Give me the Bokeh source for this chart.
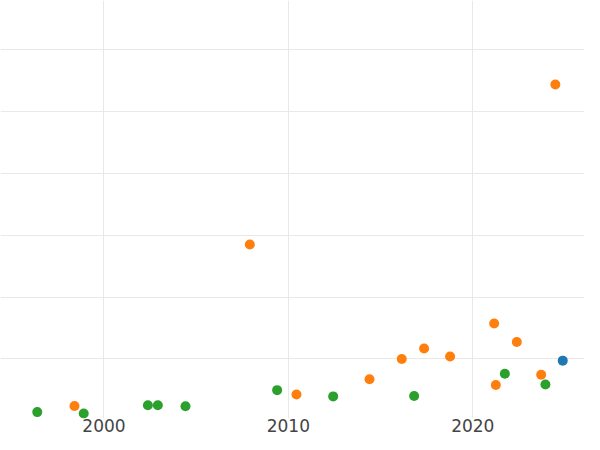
from bokeh.plotting import figure
from bokeh.models import Range1d, FixedTicker
from bokeh.embed import file_html
from bokeh.resources import INLINE

# Data (y in grid units)
blue_x = [2024.88]
blue_y = [0.973]

orange_x = [1998.40, 2007.91, 2010.44, 2014.40, 2016.15, 2017.36, 2018.77,
            2021.16, 2021.25, 2022.39, 2023.71, 2024.48]
orange_y = [0.241, 2.850, 0.427, 0.671, 1.000, 1.169, 1.041,
            1.573, 0.580, 1.275, 0.745, 5.438]

green_x = [1996.38, 1998.90, 2002.38, 2002.92, 2004.42, 2009.39, 2012.43,
           2016.82, 2021.74, 2023.94]
green_y = [0.141, 0.119, 0.252, 0.252, 0.236, 0.496, 0.395,
           0.400, 0.761, 0.586]

x_ticks = [2000, 2010, 2020]
y_ticks = [0, 1, 2, 3, 4, 5, 6]

p = figure(width=584, height=434, output_backend="svg", toolbar_location=None,
           x_range=Range1d(1994.387, 2026.06), y_range=Range1d(0.0376, 6.795),
           min_border=0, min_border_left=0, min_border_right=0,
           min_border_top=0, min_border_bottom=0)

p.outline_line_color = None
p.background_fill_color = "white"
p.border_fill_color = "white"

p.yaxis.visible = False
p.xaxis.ticker = FixedTicker(ticks=x_ticks)
p.xaxis.axis_line_color = None
p.xaxis.major_tick_line_color = None
p.xaxis.minor_tick_line_color = None
p.xaxis.major_tick_out = 0
p.xaxis.major_tick_in = 0
p.xaxis.major_label_standoff = 0
p.xaxis.major_label_text_font = "DejaVu Sans"
p.xaxis.major_label_text_font_size = "17px"
p.xaxis.major_label_text_color = "#444444"

p.xgrid.ticker = FixedTicker(ticks=x_ticks)
p.ygrid.ticker = FixedTicker(ticks=y_ticks)
p.xgrid.grid_line_color = "#e8e8e8"
p.ygrid.grid_line_color = "#e8e8e8"
p.xgrid.grid_line_width = 1
p.ygrid.grid_line_width = 1

p.scatter(orange_x, orange_y, size=10, fill_color="#ff7f0e", line_color=None)
p.scatter(green_x, green_y, size=10, fill_color="#2ca02c", line_color=None)
p.scatter(blue_x, blue_y, size=10, fill_color="#1f77b4", line_color=None)

open("out.html", "w").write(file_html(p, INLINE))
